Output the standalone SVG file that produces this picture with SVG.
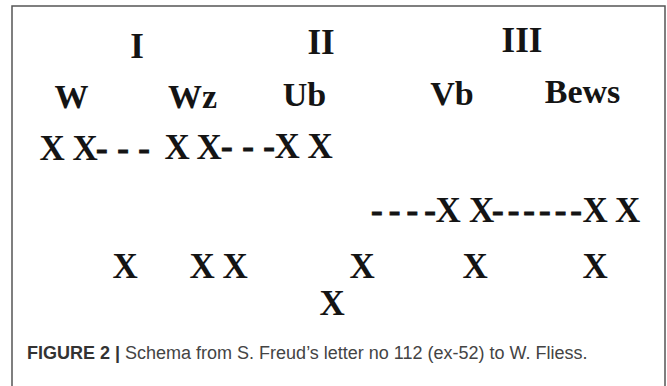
<svg xmlns="http://www.w3.org/2000/svg" width="667" height="386" viewBox="0 0 667 386">
<style>
.s{font-family:"Liberation Serif","Times New Roman",serif;font-weight:bold;font-size:35px;fill:#141414}
.h{font-size:34px}
.d{stroke:#141414;stroke-width:0.9}
.cap{font-family:"Liberation Sans",Arial,sans-serif;font-size:18px;fill:#444}
.capb{font-weight:bold;fill:#333}
</style>
<rect width="667" height="386" fill="#fff"/>
<path d="M12 386 V6 H665 V386" fill="none" stroke="#555" stroke-width="1.5"/>
<g id="headers">
<text class="s" x="137" y="58" text-anchor="middle">I</text>
<text class="s" x="321" y="54" text-anchor="middle">II</text>
<text class="s" x="522" y="52" text-anchor="middle">III</text>
</g>
<g id="labels">
<text class="s h" x="71.5" y="108" text-anchor="middle">W</text>
<text class="s h" x="192.5" y="108" text-anchor="middle">Wz</text>
<text class="s h" x="304.5" y="106" text-anchor="middle">Ub</text>
<text class="s h" x="452" y="105" text-anchor="middle">Vb</text>
<text class="s h" x="582.5" y="103" text-anchor="middle">Bews</text>
</g>
<g id="row1">
<text class="s" x="39.5" y="160">X</text>
<text class="s" x="72.5" y="160">X</text>
<text class="s d" x="96" y="160" textLength="54" lengthAdjust="spacing">---</text>
<text class="s" x="164.5" y="159">X</text>
<text class="s" x="196.5" y="159">X</text>
<text class="s d" x="221" y="158" textLength="54" lengthAdjust="spacing">---</text>
<text class="s" x="274.5" y="158">X</text>
<text class="s" x="307.5" y="158">X</text>
</g>
<g id="row2">
<text class="s d" x="371" y="222" textLength="65" lengthAdjust="spacing">----</text>
<text class="s" x="435.5" y="222">X</text>
<text class="s" x="469" y="222">X</text>
<text class="s d" x="492" y="222" textLength="90" lengthAdjust="spacing">------</text>
<text class="s" x="582.5" y="222">X</text>
<text class="s" x="615" y="222">X</text>
</g>
<g id="row3">
<text class="s" x="112.5" y="278">X</text>
<text class="s" x="189.5" y="278">X</text>
<text class="s" x="222.5" y="278">X</text>
<text class="s" x="349.5" y="278">X</text>
<text class="s" x="462.5" y="278">X</text>
<text class="s" x="582.5" y="278">X</text>
<text class="s" x="319.5" y="315">X</text>
</g>
<g id="caption">
<text class="cap" x="27" y="359"><tspan class="capb">FIGURE 2 |</tspan> Schema from S. Freud’s letter no 112 (ex-52) to W. Fliess.</text>
</g>
</svg>
